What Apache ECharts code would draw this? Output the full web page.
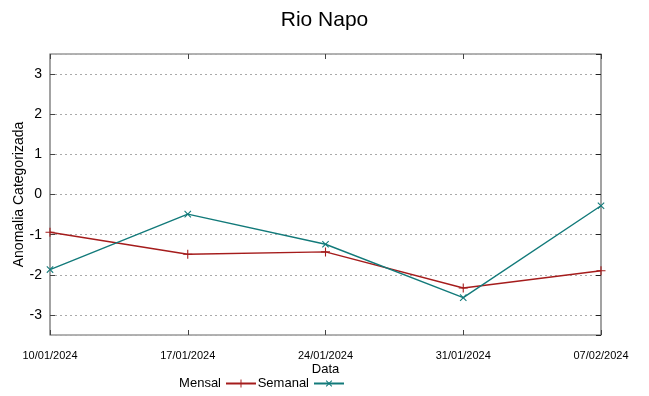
<!DOCTYPE html>
<html><head><meta charset="utf-8">
<script src="https://cdn.jsdelivr.net/npm/echarts@6/dist/echarts.min.js"></script>
<style>html,body{margin:0;padding:0;background:#fff}#c{width:649px;height:396px}</style>
</head><body><div id="c"></div>
<script>
const categories = ['10/01/2024','17/01/2024','24/01/2024','31/01/2024','07/02/2024'];
const mensal = [-0.94, -1.49, -1.43, -2.33, -1.90];
const semanal = [-1.87, -0.49, -1.24, -2.57, -0.28];
const seriesNames = ['Mensal','Semanal'];

const plusPath = 'path://M4.4,0H5.6V4.4H10V5.6H5.6V10H4.4V5.6H0V4.4H4.4Z';
const sans = '"Liberation Sans", Arial, sans-serif';
const chart = echarts.init(document.getElementById('c'), null, {renderer:'canvas'});
const yBase = { type:'value', min:-3.5, max:3.5, splitNumber:7 };
const legendBase = {
  top:377, padding:0, align:'right', itemWidth:30, itemHeight:10, itemGap:8,
  textStyle:{fontFamily:sans, fontSize:13, color:'#000'}
};
chart.setOption({
  backgroundColor:'#fff',
  animation:false,
  title:{text:'Rio Napo', left:'center', top:5,
    textStyle:{fontFamily:sans, fontSize:21, fontWeight:'normal', color:'#000'}},
  grid:{left:50, right:48, top:54, bottom:61, show:true, borderColor:'#666', borderWidth:1.2,
    backgroundColor:'transparent', containLabel:false, outerBoundsMode:'none'},
  legend:[
    Object.assign({}, legendBase, {right:392, data:[seriesNames[0]]}),
    Object.assign({}, legendBase, {right:304, data:[seriesNames[1]]})
  ],
  xAxis:[{
    type:'category', data:categories, boundaryGap:false,
    name:'Data', nameLocation:'middle', nameGap:28, nameMoveOverlap:false,
    nameTextStyle:{fontFamily:sans, fontSize:13, color:'#000'},
    axisLine:{show:false, onZero:false},
    axisTick:{show:true, inside:true, length:5, lineStyle:{color:'#444'}},
    axisLabel:{fontFamily:sans, fontSize:11, color:'#000', margin:15, showMinLabel:true, showMaxLabel:true},
    splitLine:{show:false}
  },{
    type:'category', data:categories, boundaryGap:false, position:'top',
    axisLine:{show:false, onZero:false},
    axisTick:{show:true, inside:true, length:5, lineStyle:{color:'#444'}},
    axisLabel:{show:false}, splitLine:{show:false}
  }],
  yAxis:[Object.assign({}, yBase, {
    name:'Anomalia Categorizada', nameLocation:'middle', nameGap:24, nameRotate:90, nameMoveOverlap:false,
    nameTextStyle:{fontFamily:sans, fontSize:14, color:'#000'},
    axisLine:{show:false, onZero:false},
    axisTick:{show:true, inside:true, length:5, lineStyle:{color:'#444'}},
    axisLabel:{fontFamily:sans, fontSize:14, color:'#000', margin:8, showMinLabel:false, showMaxLabel:false},
    splitLine:{show:true, lineStyle:{color:'#aaa', type:[2,3], width:1}}
  }), Object.assign({}, yBase, {
    position:'right',
    axisLine:{show:false, onZero:false},
    axisTick:{show:true, inside:true, length:5, lineStyle:{color:'#222'}},
    axisLabel:{show:false}, splitLine:{show:false}
  })],
  series:[{
    name:seriesNames[0], type:'line', data:mensal, xAxisIndex:0, yAxisIndex:0,
    symbol:plusPath, symbolSize:9, showSymbol:true,
    lineStyle:{color:'#a51c1c', width:1.4},
    itemStyle:{color:'#a51c1c'}
  },{
    name:seriesNames[1], type:'line', data:semanal, xAxisIndex:0, yAxisIndex:0,
    symbol:plusPath, symbolSize:9, symbolRotate:45, showSymbol:true,
    lineStyle:{color:'#127a7a', width:1.4},
    itemStyle:{color:'#127a7a'}
  }]
});
</script></body></html>
